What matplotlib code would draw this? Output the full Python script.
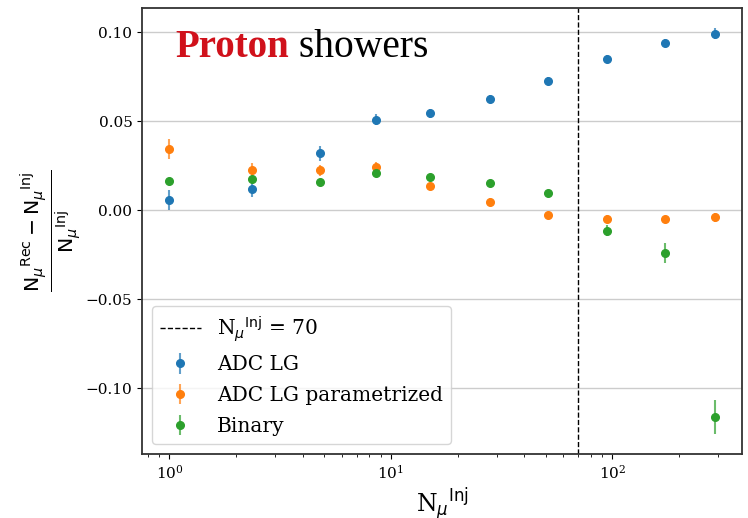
import matplotlib
matplotlib.use("Agg")
import matplotlib.pyplot as plt
from matplotlib.colors import to_rgba

plt.rcParams['font.family'] = 'serif'
plt.rcParams['font.serif'] = ['DejaVu Serif']
plt.rcParams['mathtext.fontset'] = 'dejavusans'

# data
n_inj = [1.0, 2.35, 4.77, 8.55, 15.0, 28.0, 51.3, 94.9, 171.8, 289.5]

adc_lg = [0.006, 0.012, 0.032, 0.051, 0.0546, 0.0625, 0.0728, 0.0852, 0.0942, 0.0993]
adc_lg_err = [0.0055, 0.0042, 0.004, 0.003, 0.0025, 0.0022, 0.0022, 0.0022, 0.0022, 0.003]

adc_par = [0.0345, 0.0229, 0.0225, 0.0244, 0.0135, 0.0049, -0.0028, -0.0047, -0.0049, -0.0039]
adc_par_err = [0.0056, 0.004, 0.003, 0.003, 0.002, 0.0018, 0.0018, 0.002, 0.0018, 0.0025]

binary = [0.0165, 0.0178, 0.0159, 0.0208, 0.0186, 0.0154, 0.0096, -0.0113, -0.024, -0.1158]
binary_err = [0.0012, 0.0012, 0.0012, 0.0012, 0.0012, 0.0012, 0.0012, 0.003, 0.0058, 0.0096]

n_cut = 70

fig = plt.figure(figsize=(7.48, 5.18), dpi=100)
ax = fig.add_axes([0.190, 0.1236, 0.802, 0.861])

ax.axvline(n_cut, color='black', ls='--', lw=1, label=r'N$_\mu$$^{\rm Inj}$ = 70')
for y, err, c, lab in [(adc_lg, adc_lg_err, 'tab:blue', 'ADC LG'),
                       (adc_par, adc_par_err, 'tab:orange', 'ADC LG parametrized'),
                       (binary, binary_err, 'tab:green', 'Binary')]:
    ax.errorbar(n_inj, y, yerr=err, fmt='o', ms=5.5, color=c,
                ecolor=to_rgba(c, 0.7), label=lab)

ax.set_xscale('log')
ax.set_yticks([-0.10, -0.05, 0.00, 0.05, 0.10])
ax.yaxis.grid(True, color='#cccccc', lw=1)
ax.set_axisbelow(True)
ax.tick_params(labelsize=11)
for s in ax.spines.values():
    s.set_color('#333333')
    s.set_linewidth(1.3)

ax.set_xlabel(r'N$_\mu$$^{\rm Inj}$', fontsize=17)
ax.set_ylabel(r'$\frac{{\mathrm{N}_\mu}^{\mathrm{Rec}} - {\mathrm{N}_\mu}^{\mathrm{Inj}}}{{\mathrm{N}_\mu}^{\mathrm{Inj}}}$',
              fontsize=21, labelpad=2)

leg = ax.legend(loc='lower left', fontsize=14.5, handlelength=2.0, labelspacing=0.58)
leg.get_frame().set_edgecolor('#cccccc')

t1 = ax.text(0.055, 0.889, 'Proton', transform=ax.transAxes, fontsize=28,
             fontweight='bold', color='#d0111b', family='Liberation Serif')
ax.annotate(' showers', xy=(1, 0), xycoords=t1, fontsize=28.5,
            family='Liberation Serif', color='black', va='bottom')

fig.savefig('out.png', dpi=100)
